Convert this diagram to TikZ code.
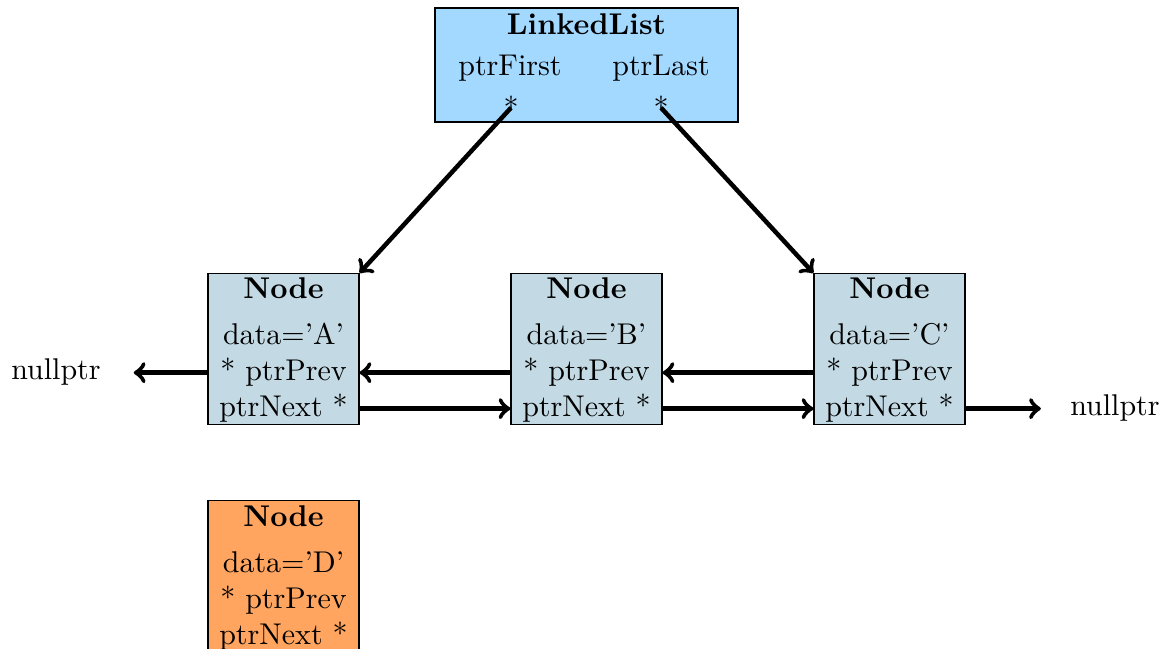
\documentclass[tikz,border=0pt]{standalone}
\usetikzlibrary{calc}
\definecolor{listblue}{RGB}{163,217,255}
\definecolor{nodeblue}{RGB}{195,218,228}
\definecolor{nodeorange}{RGB}{255,165,96}
\begin{document}
\begin{tikzpicture}[x=0.33333pt,y=-0.33333pt,
  nodebox/.style={draw=black, line width=0.4pt, minimum width=50.33pt, minimum height=50.33pt, inner sep=0pt},
  listbox/.style={draw=black, line width=0.4pt, fill=listblue, minimum width=101pt, minimum height=38pt, inner sep=0pt},
  txt/.style={anchor=base, inner sep=0pt},
  ttl/.style={anchor=base, inner sep=0pt, font=\bfseries},
  null/.style={inner sep=3.33pt},
  ptr/.style={->, line width=1.5pt}]
\useasboundingbox (0,0) rectangle (1176,649);
% linked list header
\node[listbox] (L) at (586.5,65) {};
\node[ttl] (Ltitle) at (586.5,35) {LinkedList};
\node[txt] (Lfirst) at (510,76) {ptrFirst};
\node[txt] (Llast) at (661,76) {ptrLast};
\node[txt] (sFirst) at (511,119) {*};
\node[txt] (sLast) at (661,119) {*};
% list nodes
\foreach \n/\x/\y/\c/\f in {A/283.5/273/A/nodeblue, B/586.5/273/B/nodeblue, C/889.5/273/C/nodeblue, D/283.5/500/D/nodeorange}{
  \node[nodebox, fill=\f, anchor=north] (\n) at (\x,\y) {};
  \node[ttl] (\n-title) at (\x,\y+26) {Node};
  \node[txt] (\n-data) at (\x,\y+72) {data='\c'};
  \node[txt] (\n-prev) at (\x,\y+108) {* ptrPrev};
  \node[txt] (\n-next) at (\x,\y+144) {ptrNext *};
}
\node[null] (nullL) at (56,372) {nullptr};
\node[null] (nullR) at (1115,408) {nullptr};
% connectors
\draw[ptr, shorten >=7.5pt] (A.west |- A-prev) -- (nullL.east |- A-prev);
\draw[ptr] (B.west |- B-prev) -- (A.east |- A-prev);
\draw[ptr] (A.east |- A-next) -- (B.west |- B-next);
\draw[ptr] (C.west |- C-prev) -- (B.east |- B-prev);
\draw[ptr] (B.east |- B-next) -- (C.west |- C-next);
\draw[ptr, shorten >=6.3pt] (C.east |- C-next) -- (nullR.west |- C-next);
\draw[ptr] (sFirst.center) -- (A.north east);
\draw[ptr] (sLast.center) -- (C.north west);
\end{tikzpicture}
\end{document}
